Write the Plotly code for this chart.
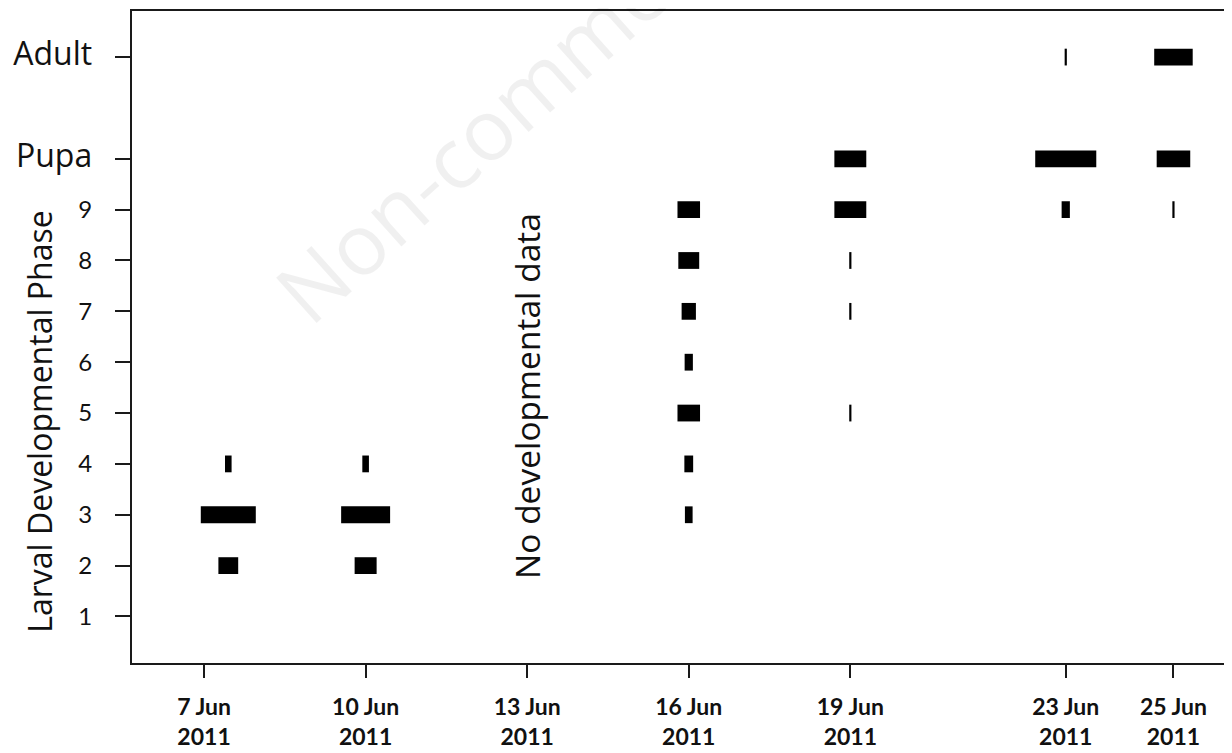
import plotly.graph_objects as go

# ---------------- data ----------------
tick_days = [7, 10, 13, 16, 19, 23, 25]
tick_labels = ["7 Jun<br>2011", "10 Jun<br>2011", "13 Jun<br>2011", "16 Jun<br>2011",
               "19 Jun<br>2011", "23 Jun<br>2011", "25 Jun<br>2011"]

phase_vals = [1, 2, 3, 4, 5, 6, 7, 8, 9, 10, 12]
phase_labels = ["1", "2", "3", "4", "5", "6", "7", "8", "9", "Pupa", "Adult"]

# sampling day (x) for each sample
sample_days = [7.45, 10, 16, 19, 23, 25]

# phases present and relative frequency (arbitrary units) per sample
phases_7jun = [2, 3, 4]
freq_7jun = [36, 100, 12]
phases_10jun = [2, 3, 4]
freq_10jun = [40, 89, 12]
phases_16jun = [3, 4, 5, 6, 7, 8, 9]
freq_16jun = [14, 16, 41, 15, 26, 38, 41]
phases_19jun = [5, 7, 8, 9, 10]
freq_19jun = [4, 4, 4, 58, 58]
phases_23jun = [9, 10, 12]
freq_23jun = [15, 111, 4]
phases_25jun = [9, 10, 12]
freq_25jun = [4, 61, 70]

no_data_day = 13
no_data_text = "No developmental data"

# ---------------- build ----------------
UNIT = 0.010215   # days of bar length per frequency unit
BAR_H = 0.33

samples = [
    (sample_days[0], phases_7jun, freq_7jun),
    (sample_days[1], phases_10jun, freq_10jun),
    (sample_days[2], phases_16jun, freq_16jun),
    (sample_days[3], phases_19jun, freq_19jun),
    (sample_days[4], phases_23jun, freq_23jun),
    (sample_days[5], phases_25jun, freq_25jun),
]

ys, xs, bases = [], [], []
for day, ph, fr in samples:
    for p, f in zip(ph, fr):
        w = f * UNIT
        ys.append(p)
        xs.append(w)
        bases.append(day - w / 2)

fig = go.Figure()
fig.add_trace(go.Bar(
    orientation="h", y=ys, x=xs, base=bases, width=BAR_H,
    marker=dict(color="black", line=dict(width=0)),
    showlegend=False, hoverinfo="skip",
))

ytext = [t if t.isdigit() else
         f"<span style='font-size:32px;font-family:\"Open Sans\"'>{t}</span>" for t in phase_labels]

# page body has an 8px margin: figure is sized so it fills the 1232x753 window
fig.update_layout(
    width=1224, height=745,
    margin=dict(l=124, r=0, t=3, b=90, autoexpand=False),
    paper_bgcolor="white", plot_bgcolor="white",
    font=dict(family="Lato, 'Open Sans', sans-serif", color="black"),
    xaxis=dict(
        range=[5.662, 26.087], tickmode="array", tickvals=tick_days, ticktext=tick_labels,
        showgrid=False, zeroline=False, showline=True, linecolor="#1a1a1a", linewidth=2,
        mirror=True, ticks="outside", ticklen=13, tickwidth=2, tickcolor="#1a1a1a",
        tickfont=dict(size=23, family="Lato", weight="bold", color="#111"),
        ticklabelstandoff=9, automargin=False,
    ),
    yaxis=dict(
        range=[0.085, 12.906], tickmode="array", tickvals=phase_vals, ticktext=ytext,
        showgrid=False, zeroline=False, showline=True, linecolor="#1a1a1a", linewidth=2,
        mirror=False, ticks="outside", ticklen=15, tickwidth=2, tickcolor="#1a1a1a",
        tickfont=dict(size=24, family="Lato", color="#111"),
        ticklabelstandoff=18, automargin=False,
    ),
    annotations=[
        dict(text="Non-commercial", xref="x", yref="y", x=13.1, y=11.47,
             textangle=-42, showarrow=False, font=dict(size=85, family="Open Sans",
                                                        color="rgba(0,0,0,0.06)")),
        dict(text="Larval Developmental Phase", xref="paper", yref="y", x=-0.0836, y=4.83,
             textangle=-90, showarrow=False, xanchor="center", yanchor="middle",
             font=dict(size=32, family="Open Sans", color="#111")),
        dict(text=no_data_text, xref="x", yref="y", x=no_data_day, y=5.34,
             textangle=-90, showarrow=False, xanchor="center", yanchor="middle",
             font=dict(size=33.5, family="Open Sans", color="#111")),
    ],
)

fig.write_html("out.html")
